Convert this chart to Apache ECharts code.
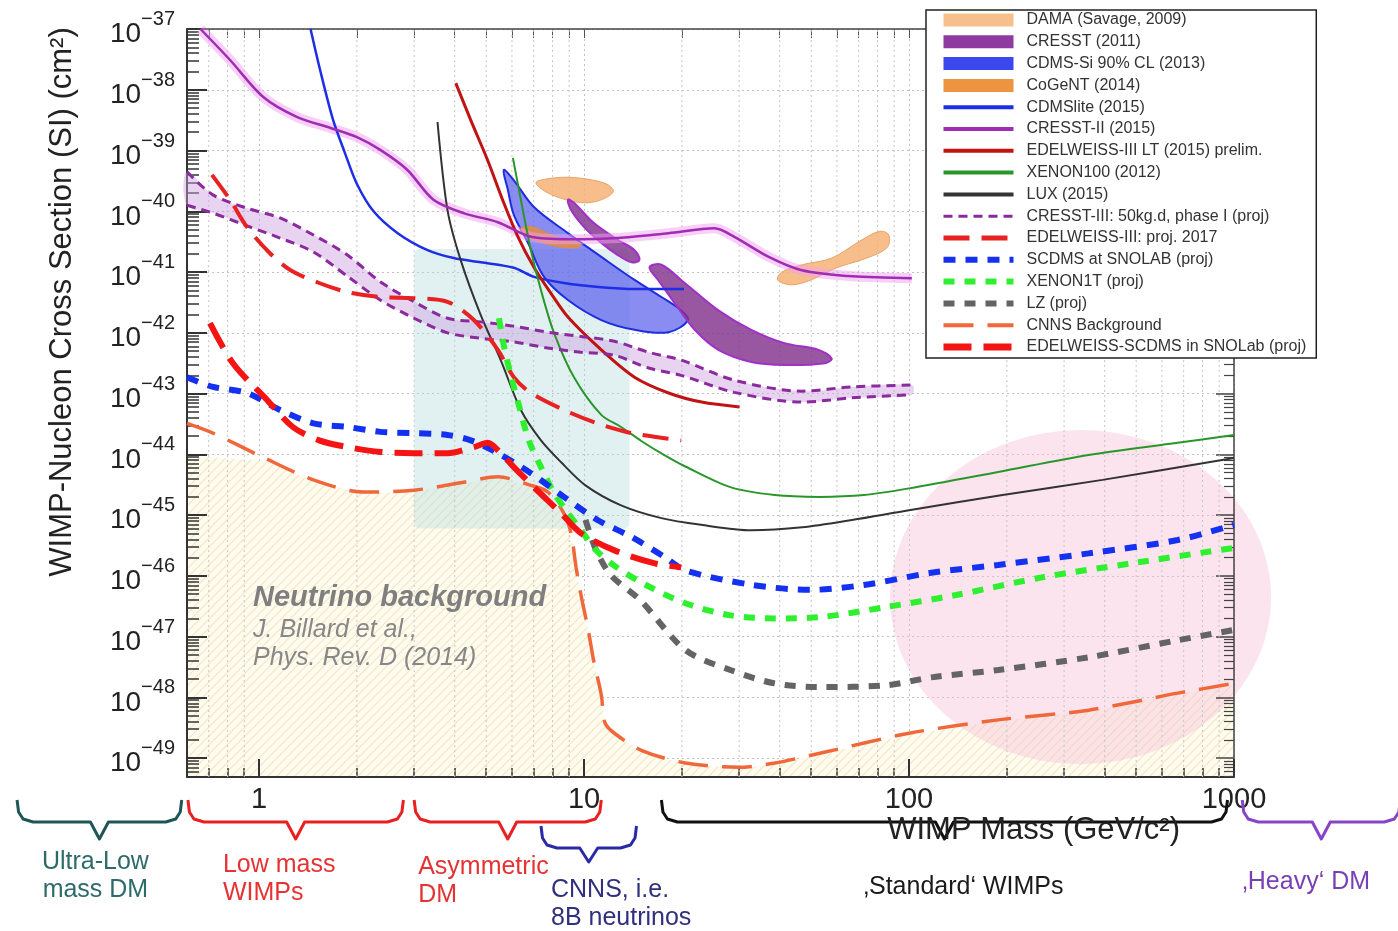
<!DOCTYPE html>
<html><head><meta charset="utf-8">
<script src="https://cdn.jsdelivr.net/npm/echarts@6/dist/echarts.min.js"></script>
<style>html,body{margin:0;padding:0;background:#fff}#c{width:1398px;height:931px}</style>
</head><body><div id="c"></div>
<script>
// ===== DATA: [mass (GeV/c^2), log10 cross-section (cm^2)] =====
const massRange = [0.6, 1000];
const expRange = [-49.31, -37];
const xTickMasses = [1, 10, 100, 1000];
const xTickLabels = ['1', '10', '100', '1000'];
const yTickExponents = [-49,-48,-47,-46,-45,-44,-43,-42,-41,-40,-39,-38,-37];

const cresstII2015 = [[0.66,-37.0],[0.814,-37.51],[1.03,-38.12],[1.31,-38.45],[1.66,-38.63],[2.0,-38.78],[2.36,-38.99],[2.86,-39.32],[3.44,-39.81],[4.26,-40.03],[5.43,-40.18],[6.86,-40.42],[8.92,-40.46],[12.7,-40.44],[18.2,-40.36],[25.2,-40.28],[29,-40.42],[37,-40.75],[46.8,-40.97],[66.7,-41.07],[102,-41.10]];
const cdmslite2015 = [[1.44,-37.0],[1.54,-37.67],[1.69,-38.5],[1.84,-39.05],[2.0,-39.55],[2.25,-40.0],[2.67,-40.36],[3.3,-40.64],[3.97,-40.77],[4.81,-40.84],[6.08,-40.93],[7.01,-41.08],[8.67,-41.18],[11.3,-41.25],[14.3,-41.28],[20.3,-41.28]];
const edelweissLT2015 = [[4.03,-37.89],[4.48,-38.50],[5.05,-39.16],[5.66,-39.86],[6.26,-40.42],[7.01,-40.92],[7.91,-41.35],[8.92,-41.74],[11.3,-42.28],[14.3,-42.73],[18.2,-42.99],[23,-43.14],[30.1,-43.22]];
const xenon100 = [[6.04,-39.12],[6.39,-39.81],[6.86,-40.64],[7.37,-41.30],[8.08,-42.0],[9.31,-42.73],[11.3,-43.35],[13,-43.55],[15,-43.78],[17.5,-44.0],[20.5,-44.2],[28.2,-44.54],[38.6,-44.67],[53.1,-44.70],[72.6,-44.67],[100,-44.56],[188,-44.29],[357,-44.01],[671,-43.81],[1000,-43.68]];
const lux2015 = [[3.54,-38.53],[3.8,-39.98],[4.17,-40.80],[4.81,-41.71],[5.54,-42.45],[6.39,-43.27],[7.37,-43.77],[8.5,-44.13],[10.1,-44.51],[13,-44.84],[17.3,-45.05],[22.9,-45.16],[32.7,-45.25],[46.9,-45.20],[66.7,-45.08],[100,-44.92],[194,-44.67],[394,-44.42],[1000,-44.06]];
const cresstIIIUpper = [[0.6,-39.35],[0.721,-39.73],[0.918,-39.95],[1.16,-40.11],[1.47,-40.39],[1.87,-40.72],[2.36,-41.16],[3.0,-41.49],[3.8,-41.76],[4.81,-41.82],[6.08,-41.89],[7.74,-41.99],[9.79,-42.06],[12.4,-42.14],[15.8,-42.32],[19.9,-42.45],[29,-42.78],[46.9,-42.96],[66.7,-42.89],[102,-42.86]];
const cresstIIILower = [[0.6,-39.90],[0.721,-40.03],[0.918,-40.24],[1.16,-40.44],[1.47,-40.67],[1.87,-41.07],[2.36,-41.46],[3.0,-41.76],[3.8,-42.0],[4.81,-42.09],[6.08,-42.15],[7.74,-42.25],[9.79,-42.32],[12.4,-42.37],[15.8,-42.58],[19.9,-42.70],[29,-42.98],[46.9,-43.14],[66.7,-43.07],[102,-43.02]];
const edelweissProj2017 = [[0.716,-39.40],[0.814,-39.81],[0.918,-40.26],[1.08,-40.69],[1.25,-40.97],[1.53,-41.18],[1.87,-41.33],[2.36,-41.41],[3.0,-41.43],[3.8,-41.49],[4.58,-41.79],[5.43,-42.28],[6.08,-42.73],[6.86,-42.99],[8.67,-43.27],[11.0,-43.49],[14.0,-43.65],[19.9,-43.77]];
const edelweissScdmsSnolab = [[0.706,-41.84],[0.831,-42.50],[1.06,-43.11],[1.27,-43.55],[1.53,-43.77],[1.87,-43.88],[2.36,-43.96],[3.0,-43.98],[3.8,-43.98],[4.58,-43.88],[5.05,-43.81],[5.54,-43.98],[6.08,-44.21],[7.01,-44.54],[8.5,-44.97],[9.79,-45.30],[12.4,-45.58],[16.4,-45.79],[19.9,-45.86]];
const scdmsSnolab = [[0.6,-42.73],[0.721,-42.89],[0.918,-42.99],[1.16,-43.27],[1.47,-43.49],[1.87,-43.55],[2.36,-43.63],[3.0,-43.65],[3.8,-43.68],[4.48,-43.77],[5.43,-43.98],[6.86,-44.31],[8.67,-44.70],[11.0,-45.08],[14.0,-45.36],[17.7,-45.69],[20.5,-45.91],[33,-46.15],[49.9,-46.23],[72.6,-46.15],[117,-45.95],[188,-45.82],[357,-45.63],[671,-45.41],[1000,-45.16]];
const xenon1t = [[5.47,-41.76],[5.66,-42.20],[5.95,-42.70],[6.30,-43.19],[6.76,-43.77],[7.37,-44.21],[8.0,-44.59],[8.79,-44.92],[9.79,-45.25],[10.9,-45.58],[12.6,-45.86],[15.5,-46.15],[20.5,-46.45],[28.2,-46.65],[38.6,-46.70],[53.1,-46.68],[85.5,-46.51],[138,-46.32],[259,-46.02],[488,-45.79],[1000,-45.54]];
const lzProj = [[10.1,-45.08],[10.9,-45.58],[12.1,-45.99],[14.9,-46.40],[20.5,-47.22],[28.2,-47.55],[38.6,-47.77],[53.1,-47.83],[85.5,-47.80],[117,-47.67],[188,-47.55],[357,-47.34],[671,-47.06],[1000,-46.89]];
const cnnsBackground = [[0.6,-43.49],[0.721,-43.65],[1.03,-44.05],[1.47,-44.42],[2.09,-44.62],[3.0,-44.59],[4.26,-44.46],[5.43,-44.37],[6.86,-44.51],[7.74,-44.62],[8.67,-44.97],[9.12,-45.30],[9.45,-45.86],[9.79,-46.32],[10.3,-46.89],[10.7,-47.39],[11.3,-47.96],[11.6,-48.42],[12.4,-48.59],[15,-48.87],[20.5,-49.08],[29.9,-49.15],[38.6,-49.08],[53.1,-48.92],[100,-48.59],[188,-48.37],[357,-48.21],[671,-47.93],[1000,-47.77]];
const neutrinoFloorTop = [[0.6,-44.03],[1.03,-44.10],[1.47,-44.44],[2.09,-44.64],[3.0,-44.61],[4.26,-44.48],[5.43,-44.39],[6.86,-44.53],[7.74,-44.64],[8.67,-44.99],[9.12,-45.32],[9.45,-45.88],[9.79,-46.34],[10.3,-46.91],[10.7,-47.41],[11.3,-47.98],[11.6,-48.44],[12.4,-48.61],[15,-48.89],[20.5,-49.10],[29.9,-49.17],[38.6,-49.10],[53.1,-48.94],[100,-48.61],[188,-48.39],[357,-48.23],[671,-47.95],[1000,-47.79]];
const damaA = [[7.11,-39.53],[7.63,-39.47],[8.92,-39.44],[10.7,-39.49],[11.9,-39.57],[12.3,-39.68],[11.3,-39.81],[10.1,-39.86],[8.79,-39.81],[7.63,-39.68]];
const damaB = [[39.4,-41.13],[40.6,-41.0],[46.9,-40.88],[57.8,-40.77],[71.6,-40.47],[81.3,-40.33],[86.7,-40.39],[85.5,-40.60],[74.1,-40.77],[59.9,-40.93],[49.9,-41.13],[43.5,-41.21]];
const cogent2014 = [[6.38,-40.28],[6.86,-40.24],[7.63,-40.34],[8.79,-40.47],[9.79,-40.52],[9.66,-40.60],[8.5,-40.60],[7.37,-40.52],[6.62,-40.41]];
const cdmsSi2013 = [[5.66,-39.32],[5.83,-39.65],[6.08,-40.06],[6.72,-40.52],[7.53,-41.08],[8.92,-41.46],[11.3,-41.79],[14.3,-41.95],[18.2,-41.99],[20.9,-41.79],[19.9,-41.63],[17.3,-41.41],[14.3,-41.13],[11.3,-40.75],[8.92,-40.36],[7.01,-39.93],[6.08,-39.49]];
const cresst2011A = [[8.92,-39.81],[9.31,-39.86],[10.7,-40.19],[12.7,-40.47],[14.3,-40.64],[14.8,-40.80],[14.0,-40.84],[12.7,-40.72],[11.3,-40.52],[10.0,-40.26],[9.12,-39.98]];
const cresst2011B = [[15.9,-40.92],[17.3,-40.88],[20.4,-41.18],[25.9,-41.63],[32.7,-41.95],[41.4,-42.17],[52.7,-42.28],[57.8,-42.42],[55.1,-42.50],[41.4,-42.53],[32.7,-42.48],[25.9,-42.28],[21.9,-41.95],[19.0,-41.51],[16.9,-41.13]];
const asymmetricBox = {mass:[3.0, 13.8], exp:[-45.22, -40.62]};
const heavyDisc = {mass:[87.4, 1300], exp:[-49.1, -43.6]};
const braceMass = [[0.18,0.578],[0.604,2.78],[3.0,11.3],[7.37,14.5],[17.3,955],[1060,3250]];
const braceText = ['Ultra-Low\nmass DM','Low mass\nWIMPs','Asymmetric\nDM','CNNS, i.e.\n8B neutrinos','\u201AStandard\u2018 WIMPs','\u201AHeavy\u2018 DM'];

// ===== helpers / styles =====
const FONT = '"Liberation Sans", Arial, sans-serif';
const L = Math.log10;
const X0 = L(massRange[0]), X1 = L(massRange[1]);
const Y0 = expRange[0], Y1 = expRange[1];
const xy = a => a.map(p => [L(p[0]), p[1]]);
const xMajor = xTickMasses.map(L);
const xMinor = [], yMinor = [];
for (let n = -1; n <= 2; n++) for (let k = 2; k <= 9; k++) { const v = n + L(k); if (v > X0 + 1e-6 && v < X1 - 1e-6) xMinor.push(v); }
for (let n = -50; n <= -38; n++) for (let k = 2; k <= 9; k++) { const v = n + L(k); if (v > Y0 + 1e-6 && v < Y1 - 1e-6) yMinor.push(v); }

const hatch = document.createElement('canvas'); hatch.width = 9; hatch.height = 9;
(function(){ const g = hatch.getContext('2d'); g.fillStyle = '#fffcef'; g.fillRect(0,0,9,9);
  g.strokeStyle = '#f0e7c4'; g.lineWidth = 1.2; g.beginPath(); g.moveTo(0,9); g.lineTo(9,0);
  g.moveTo(-2,2); g.lineTo(2,-2); g.moveTo(7,11); g.lineTo(11,7); g.stroke(); })();

function lineS(name, pts, color, width, dash, z, extra) {
  return Object.assign({type:'line', name, data: xy(pts), symbol:'none', showSymbol:false, smooth:0.3,
    lineStyle:{color, width, type: dash || 'solid', cap:'butt'}, itemStyle:{color}, z: z || 4, silent:true}, extra || {});
}
function polyS(name, pts, fill, stroke, lw, z, legendColor, smooth) {
  return {type:'custom', name, z, silent:true, clip:false, itemStyle:{color: legendColor || stroke || '#999'},
    data:[[L(pts[0][0]), pts[0][1]]],
    renderItem:(p, api) => ({type:'polygon', shape:{points: pts.map(q => api.coord([L(q[0]), q[1]])), smooth: smooth == null ? 0.35 : smooth},
      style:{fill, stroke: stroke || null, lineWidth: lw || 0}})};
}

const braceStyle = [
  {color:'#1e5656', text:'#2e6a6a', drop:0, align:'center', dx:-4, dy:71},
  {color:'#e82020', text:'#e63232', drop:0, align:'left', dx:35, dy:74},
  {color:'#e82020', text:'#e63232', drop:0, align:'left', dx:4, dy:76},
  {color:'#2a2aa6', text:'#30307e', drop:26, align:'left', dx:10, dy:99},
  {color:'#111111', text:'#1a1a1a', drop:0, align:'left', dx:202, dy:96},
  {color:'#8844c8', text:'#7a3fb5', drop:0, align:'left', dx:0, dy:91}
];

const series = [
  polyS('nuFloor', neutrinoFloorTop.concat([[massRange[1], Y0],[massRange[0], Y0]]), {image:hatch, repeat:'repeat'}, null, 0, 0, '#eee', 0),
  {type:'custom', name:'heavy', z:0, silent:true, clip:false, data:[[L(heavyDisc.mass[0]), heavyDisc.exp[0]]],
   renderItem:(p, api) => { const a = api.coord([L(heavyDisc.mass[0]), heavyDisc.exp[1]]), b = api.coord([L(heavyDisc.mass[1]), heavyDisc.exp[0]]);
     const rx = (b[0]-a[0])/2, ry = (b[1]-a[1])/2;
     return {type:'circle', x:(a[0]+b[0])/2, y:(a[1]+b[1])/2, scaleY: ry/rx, shape:{cx:0, cy:0, r:rx}, style:{fill:'rgba(246,190,214,0.42)'}}; }},
  {type:'custom', name:'asym', z:0, silent:true, data:[[L(asymmetricBox.mass[0]), asymmetricBox.exp[0]]],
   renderItem:(p, api) => { const a = api.coord([L(asymmetricBox.mass[0]), asymmetricBox.exp[1]]), b = api.coord([L(asymmetricBox.mass[1]), asymmetricBox.exp[0]]);
     return {type:'rect', shape:{x:a[0], y:a[1], width:b[0]-a[0], height:b[1]-a[1], r:6}, style:{fill:'rgba(175,218,220,0.38)'}}; }},
  {type:'custom', name:'minorGrid', z:1, silent:true, data: xMinor.map(v => [v, Y0]),
   renderItem:(p, api) => { const v = api.value(0); const a = api.coord([v, Y0]), b = api.coord([v, Y1]);
     return {type:'line', shape:{x1:a[0], y1:a[1], x2:b[0], y2:b[1]}, style:{stroke:'#c6c6c6', lineWidth:1, lineDash:[2,3]}}; }},
  polyS('CDMS-Si 90% CL (2013)', cdmsSi2013, 'rgba(92,96,236,0.72)', '#1f2de0', 2, 2, '#3a48ee'),
  polyS('DAMA (Savage, 2009)', damaA, 'rgba(246,178,118,0.85)', '#e8a46a', 1, 2, '#f6bf8c'),
  polyS('DAMA (Savage, 2009)', damaB, 'rgba(246,178,118,0.85)', '#e8a46a', 1, 2, '#f6bf8c'),
  polyS('CoGeNT (2014)', cogent2014, 'rgba(232,140,60,0.85)', null, 0, 2, '#ec9440'),
  polyS('CRESST (2011)', cresst2011A, 'rgba(130,50,140,0.82)', '#a030c8', 2, 2, '#8e3aa0'),
  polyS('CRESST (2011)', cresst2011B, 'rgba(130,50,140,0.82)', '#a030c8', 2, 2, '#8e3aa0'),
  lineS('CDMSlite (2015)', cdmslite2015, '#1e2ee6', 2.5),
  lineS('CRESST-II (2015)', cresstII2015, '#a02cb4', 2.5, null, 5),
  lineS('CRESST-II (2015)', cresstII2015, 'rgba(242,160,242,0.5)', 10, null, 3),
  lineS('EDELWEISS-III LT (2015) prelim.', edelweissLT2015, '#c01414', 3),
  lineS('XENON100 (2012)', xenon100, '#2a962a', 2),
  lineS('LUX (2015)', lux2015, '#333333', 2),
  lineS('CRESST-III: 50kg.d, phase I (proj)', cresstIIIUpper, '#8a2a9c', 3, [9,6]),
  lineS('CRESST-III: 50kg.d, phase I (proj)', cresstIIILower, '#8a2a9c', 3, [9,6]),
  polyS('CRESST-III: 50kg.d, phase I (proj)', cresstIIIUpper.concat(cresstIIILower.slice().reverse()), 'rgba(205,160,225,0.45)', null, 0, 2, '#8a2a9c'),
  lineS('EDELWEISS-III: proj. 2017', edelweissProj2017, '#e82222', 4, [26,12]),
  lineS('CNNS Background', cnnsBackground, '#f0683a', 3.5, [30,14]),
  lineS('LZ (proj)', lzProj, '#646464', 6, [11,10]),
  lineS('XENON1T (proj)', xenon1t, '#2ef02e', 6, [11,10]),
  lineS('SCDMS at SNOLAB (proj)', scdmsSnolab, '#1430f0', 6, [12,10]),
  lineS('EDELWEISS-SCDMS in SNOLab (proj)', edelweissScdmsSnolab, '#f41414', 6, [28,12]),
  {type:'custom', name:'braces', z:6, silent:true, clip:false, data: braceMass.map((b, i) => [L(b[0]), Y0, i]),
   renderItem:(p, api) => { const i = p.dataIndex, b = braceMass[i], s = braceStyle[i];
     const x1 = api.coord([L(b[0]), Y0])[0], x2 = api.coord([L(b[1]), Y0])[0], yb = api.coord([X0, Y0])[1];
     const xc = (x1+x2)/2, top = yb + 23 + s.drop, mid = top + 22, dip = mid + (s.drop ? 14 : 17);
     const pts = [[x1,top],[x1+1.5,mid-10],[x1+6,mid-3],[x1+16,mid],[xc-9,mid],[xc,dip],[xc+9,mid],[x2-16,mid],[x2-6,mid-3],[x2-1.5,mid-10],[x2,top]];
     return {type:'group', children:[
       {type:'polyline', shape:{points:pts}, style:{stroke:s.color, lineWidth:3, fill:null, lineJoin:'round'}},
       {type:'text', x: s.align === 'center' ? xc + s.dx : x1 + s.dx, y: yb + s.dy,
        style:{text: braceText[i], fill: s.text, font: '25px ' + FONT, fontSize:25, fontFamily:FONT, lineHeight:28,
          align: s.align, textAlign: s.align, verticalAlign:'top', textVerticalAlign:'top'}}]}; }}
];

const noDot = {opacity:0};
const legendItems = [
  {name:'DAMA (Savage, 2009)', icon:'rect', itemStyle:{color:'#f6bf8c'}},
  {name:'CRESST (2011)', icon:'rect', itemStyle:{color:'#8e3aa0'}},
  {name:'CDMS-Si 90% CL (2013)', icon:'rect', itemStyle:{color:'#3a48ee'}},
  {name:'CoGeNT (2014)', icon:'rect', itemStyle:{color:'#ec9440'}},
  {name:'CDMSlite (2015)', lineStyle:{width:4}, itemStyle:noDot},
  {name:'CRESST-II (2015)', lineStyle:{width:4}, itemStyle:noDot},
  {name:'EDELWEISS-III LT (2015) prelim.', lineStyle:{width:4}, itemStyle:noDot},
  {name:'XENON100 (2012)', lineStyle:{width:4}, itemStyle:noDot},
  {name:'LUX (2015)', lineStyle:{width:4}, itemStyle:noDot},
  {name:'CRESST-III: 50kg.d, phase I (proj)', lineStyle:{width:3}, itemStyle:noDot},
  {name:'EDELWEISS-III: proj. 2017', lineStyle:{width:5}, itemStyle:noDot},
  {name:'SCDMS at SNOLAB (proj)', lineStyle:{width:6}, itemStyle:noDot},
  {name:'XENON1T (proj)', lineStyle:{width:6}, itemStyle:noDot},
  {name:'LZ (proj)', lineStyle:{width:6}, itemStyle:noDot},
  {name:'CNNS Background', lineStyle:{width:4}, itemStyle:noDot},
  {name:'EDELWEISS-SCDMS in SNOLab (proj)', lineStyle:{width:7}, itemStyle:noDot}
];

const axisBase = (extra) => Object.assign({type:'value', axisLine:{show:false, onZero:false}, axisLabel:{show:false}, splitLine:{show:false}}, extra);
const option = {
  animation:false, backgroundColor:'#ffffff',
  grid:{left:187, right:164, top:29, bottom:154},
  xAxis:[
    {type:'value', min:X0, max:X1, splitNumber:3, position:'bottom',
     axisLine:{show:true, onZero:false, lineStyle:{color:'#333', width:2}},
     axisTick:{show:true, inside:true, length:18, customValues:xMajor, lineStyle:{color:'#333', width:2}},
     axisLabel:{show:true, customValues:xMajor, margin:8, fontSize:29, fontFamily:FONT, color:'#222',
       formatter: v => xTickLabels[xMajor.findIndex(t => Math.abs(t - v) < 1e-6)] || ''},
     splitLine:{show:true, lineStyle:{color:'#c2c2c2', width:1, type:[2,3]}}},
    axisBase({min:X0, max:X1, position:'bottom', axisTick:{show:true, inside:true, length:9, customValues:xMinor, lineStyle:{color:'#333', width:1.5}}}),
    axisBase({min:X0, max:X1, position:'top', axisLine:{show:true, onZero:false, lineStyle:{color:'#444', width:1.5}},
      axisTick:{show:true, inside:true, length:9, customValues:xMinor.concat(xMajor), lineStyle:{color:'#555', width:1}}})
  ],
  yAxis:[
    {type:'value', min:Y0, max:Y1, splitNumber:12, position:'left',
     axisLine:{show:true, onZero:false, lineStyle:{color:'#333', width:2}},
     axisTick:{show:true, inside:true, length:20, customValues:yTickExponents, lineStyle:{color:'#333', width:2}},
     axisLabel:{show:true, customValues:yTickExponents, margin:12,
       formatter: v => '{b|10}{s|\u2212' + Math.abs(Math.round(v)) + '}',
       rich:{b:{fontSize:28, fontFamily:FONT, color:'#222', padding:[11,0,0,0]},
             s:{fontSize:20, fontFamily:FONT, color:'#222', verticalAlign:'top'}}},
     splitLine:{show:true, lineStyle:{color:'#c2c2c2', width:1, type:[2,3]}}},
    axisBase({min:Y0, max:Y1, position:'left', axisTick:{show:true, inside:true, length:12, customValues:yMinor, lineStyle:{color:'#333', width:1.5}}}),
    axisBase({min:Y0, max:Y1, position:'right', axisLine:{show:true, onZero:false, lineStyle:{color:'#444', width:1.5}},
      axisTick:{show:true, inside:true, length:18, customValues:yTickExponents, lineStyle:{color:'#444', width:1.5}}}),
    axisBase({min:Y0, max:Y1, position:'right', axisTick:{show:true, inside:true, length:10, customValues:yMinor, lineStyle:{color:'#444', width:1.2}}})
  ],
  legend:{orient:'vertical', left:926, top:10, padding:[2,10,3,14], itemWidth:70, itemHeight:13, itemGap:5.8,
    backgroundColor:'#ffffff', borderColor:'#222', borderWidth:1.5, selectedMode:false, z:10,
    textStyle:{fontFamily:FONT, fontSize:16, color:'#333', lineHeight:13, padding:[0,0,0,8]},
    data: legendItems},
  graphic:[
    {type:'text', x:62, y:302, rotation:Math.PI/2, z:10,
     style:{text:'WIMP-Nucleon Cross Section (SI) (cm\u00B2)', fontSize:31, fontFamily:FONT, fill:'#222', align:'center', textAlign:'center', verticalAlign:'middle', textVerticalAlign:'middle'}},
    {type:'text', x:1180, y:830, z:10,
     style:{text:'WIMP Mass (GeV/c\u00B2)', fontSize:31, fontFamily:FONT, fill:'#222', align:'right', textAlign:'right', verticalAlign:'middle', textVerticalAlign:'middle'}},
    {type:'text', x:253, y:598, z:10,
     style:{text:'Neutrino background', fontSize:29, fontFamily:FONT, fontWeight:'bold', fontStyle:'italic', fill:'#7f7f7f', align:'left', textAlign:'left', verticalAlign:'middle', textVerticalAlign:'middle'}},
    {type:'text', x:253, y:630, z:10,
     style:{text:'J. Billard et al.,', fontSize:25, fontFamily:FONT, fontStyle:'italic', fill:'#878787', align:'left', textAlign:'left', verticalAlign:'middle', textVerticalAlign:'middle'}},
    {type:'text', x:253, y:658, z:10,
     style:{text:'Phys. Rev. D (2014)', fontSize:25, fontFamily:FONT, fontStyle:'italic', fill:'#878787', align:'left', textAlign:'left', verticalAlign:'middle', textVerticalAlign:'middle'}}
  ],
  series
};
const chart = echarts.init(document.getElementById('c'), null, {renderer:'canvas'});
chart.setOption(option);
</script></body></html>
